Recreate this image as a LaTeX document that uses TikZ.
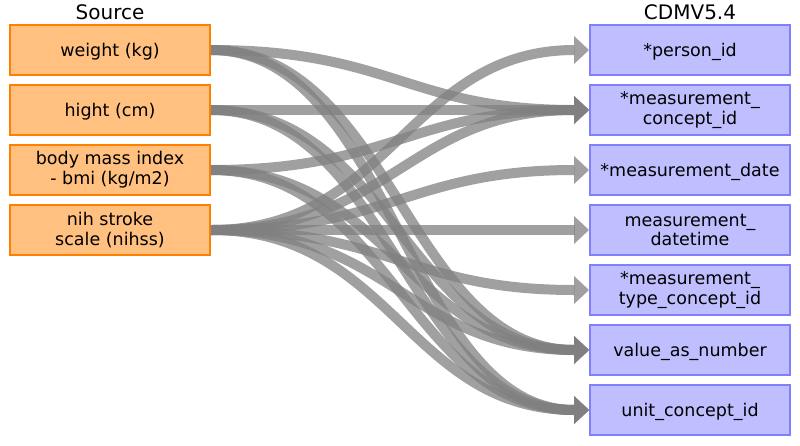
\documentclass[tikz,border=0pt]{standalone}
\usepackage{fontspec}
\setmainfont{DejaVu Sans}
\definecolor{srcfill}{RGB}{255,192,128}
\definecolor{srcborder}{RGB}{255,128,0}
\definecolor{tgtfill}{RGB}{191,191,255}
\definecolor{tgtborder}{RGB}{128,128,255}
\begin{document}
\begin{tikzpicture}[x=1pt,y=-1pt,
  box/.style={line width=2pt, minimum width=200pt, minimum height=50pt, inner sep=0pt, align=center,
    font=\fontsize{17.5}{19.8}\selectfont, execute at begin node={\rule{0pt}{17pt}}},
  src/.style={box, draw=srcborder, fill=srcfill},
  tgt/.style={box, draw=tgtborder, fill=tgtfill},
  ttl/.style={font=\fontsize{20}{24}\selectfont, inner sep=0pt},
  map/.style={draw=gray, line width=10pt, opacity=0.75, shorten >=14.5pt},
  head/.style={fill=gray, opacity=0.75}
]
\useasboundingbox (0,0) rectangle (800,445);
\node[ttl] (tsrc) at (110,12) {Source};
\node[ttl] (ttgt) at (690,12) {CDMV5.4};

\node[src] (w) at (110,50) {weight (kg)};
\node[src] (h) at (110,110) {hight (cm)};
\node[src] (b) at (110,170) {body mass index\\- bmi (kg/m2)};
\node[src] (n) at (110,230) {nih stroke\\scale (nihss)};

\node[tgt] (p) at (690,50) {*person\_id};
\node[tgt] (c) at (690,110) {*measurement\_\\concept\_id};
\node[tgt] (d) at (690,170) {*measurement\_date};
\node[tgt] (dt) at (690,230) {measurement\_\\datetime};
\node[tgt] (ty) at (690,290) {*measurement\_\\type\_concept\_id};
\node[tgt] (v) at (690,350) {value\_as\_number};
\node[tgt] (u) at (690,410) {unit\_concept\_id};

\foreach \s/\t in {w/c,w/v,w/u,h/c,h/v,h/u,b/c,b/v,b/u,n/p,n/c,n/d,n/dt,n/ty,n/v,n/u}{
  \draw[map] (\s.east) .. controls +(180,0) and +(-180,0) .. (\t.west);
  \fill[head] (\t.west) -- ++(-15,-14) -- ++(0,28) -- cycle;
}
\end{tikzpicture}
\end{document}
